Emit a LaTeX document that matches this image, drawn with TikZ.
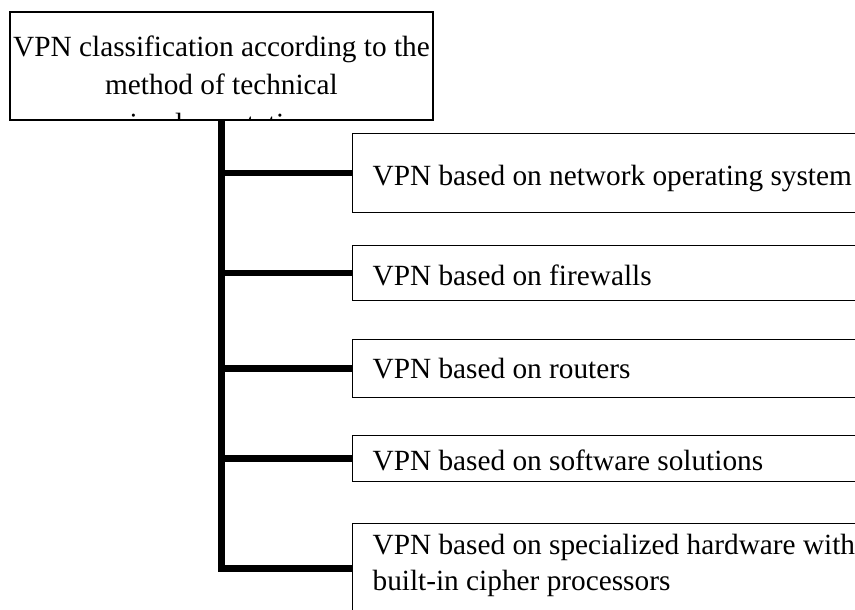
\documentclass[tikz,border=0pt]{standalone}
\usepackage{fontspec}
\setmainfont{Liberation Serif}
\usepackage{tikz}
\usetikzlibrary{positioning}

\newcommand{\bodyfont}{\fontsize{29.3}{35.7}\selectfont}
% text of a leaf box: height of the box, baseline of the first line below its top
\newcommand{\leaftext}[3]{\parbox[c][#1][t]{520pt}{\raggedright\rule{0pt}{#2}#3}}

\begin{document}
\begin{tikzpicture}[x=1pt,y=-1pt,
    box/.style={draw,line width=1.2pt},
    leaf/.style={box,anchor=north west,inner xsep=20pt,inner ysep=0pt,font=\bodyfont},
    trunk/.style={line width=6.5pt}]
    \path[use as bounding box,clip] (0,0) rectangle (855,610);

    % root box, its last line is cut by the frame
    \node[box,minimum width=423pt,minimum height=108pt] (root) at (221.5,66) {};
    \begin{scope}
        \clip (root.south west) rectangle (root.north east);
        \node[anchor=north,align=center,inner sep=0pt,font=\bodyfont] (roottext) at (root.north)
            {\rule{0pt}{45pt}VPN classification according to the\\[2.5pt]method of technical\\[2.5pt]implementation};
    \end{scope}

    % leaves
    \node[leaf] (os) at (352,133) {\leaftext{79pt}{52pt}{VPN based on network operating system}};
    \node[leaf] (fw) at (352,245) {\leaftext{55pt}{40pt}{VPN based on firewalls}};
    \node[leaf] (rt) at (352,339) {\leaftext{58pt}{39pt}{VPN based on routers}};
    \node[leaf] (sw) at (352,435) {\leaftext{46pt}{35pt}{VPN based on software solutions}};
    \node[leaf] (hw) at (352,523) {\leaftext{90pt}{31pt}{VPN based on specialized hardware with\\built-in cipher processors}};

    % trunk and branches
    \draw[trunk] (root.south) |- (hw.west);
    \draw[trunk] (root.south |- os.west) -- (os.west);
    \draw[trunk] (root.south |- fw.west) -- (fw.west);
    \draw[trunk] (root.south |- rt.west) -- (rt.west);
    \draw[trunk] (root.south |- sw.west) -- (sw.west);
\end{tikzpicture}
\end{document}
